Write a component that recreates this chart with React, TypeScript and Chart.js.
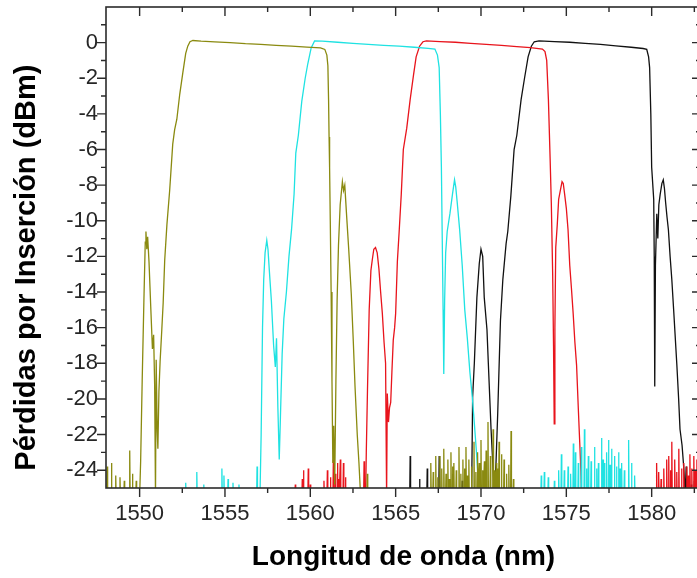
import React, { useEffect, useRef } from "react";
import { Chart, registerables } from "chart.js";

Chart.register(...registerables);

// ---- axis ranges & ticks ----
const xRange = [1548.03, 1582.89];
const yRange = [-25, 2];
const xMajorTicks = [1550, 1555, 1560, 1565, 1570, 1575, 1580];
const xMinorTicks = [1552.5, 1557.5, 1562.5, 1567.5, 1572.5, 1577.5, 1582.5];
const yMajorTicks = [-24, -22, -20, -18, -16, -14, -12, -10, -8, -6, -4, -2, 0];
const yMinorTicks = [-23, -21, -19, -17, -15, -13, -11, -9, -7, -5, -3, -1, 1];

const xTitle = "Longitud de onda (nm)";
const yTitle = "Pérdidas por Inserción (dBm)";

// noise floor of the analyser (below the visible range, clipped)
const NOISE_FLOOR = -25.5;

// ---- olive trace: [wavelength nm, loss dB] ----
const oliveNoiseLeft: [number, number][] = [
  [1548.1, -23.8], [1548.35, -23.6], [1548.6, -24.3], [1548.85, -24.4], [1549.1, -24.6],
  [1549.42, -22.9], [1549.58, -24.2], [1549.8, -24.6],
];
const oliveFilter: [number, number][] = [
  [1550.0, -25.5], [1550.06, -23.5], [1550.15, -19],
  [1550.25, -14.5], [1550.33, -11.2], [1550.37, -10.6], [1550.42, -11.6], [1550.47, -10.9],
  [1550.55, -12.3], [1550.65, -14.8], [1550.75, -17.2], [1550.82, -16.4], [1550.88, -19.2],
  [1550.93, -25.5], [1550.97, -17.8], [1551.03, -21.8], [1551.07, -22.8], [1551.13, -19.6],
  [1551.2, -17.9], [1551.3, -16.1], [1551.38, -14.6], [1551.47, -12.2], [1551.6, -10.2],
  [1551.76, -8.3], [1551.94, -5.7], [1552.05, -4.9], [1552.18, -4.3], [1552.35, -2.9],
  [1552.53, -1.7], [1552.7, -0.6], [1552.82, -0.2], [1552.95, 0.05], [1553.12, 0.12],
  [1553.6, 0.08], [1554.4, 0.04], [1555.3, 0.0], [1556.2, -0.06], [1557.1, -0.1],
  [1558.0, -0.15], [1558.9, -0.2], [1559.8, -0.25], [1560.6, -0.3], [1560.85, -0.38],
  [1560.97, -0.7], [1561.03, -1.3], [1561.07, -3.2], [1561.1, -5.3], [1561.13, -7.0],
  [1561.17, -10], [1561.22, -14], [1561.27, -19], [1561.32, -23.6], [1561.37, -21.5],
  [1561.43, -24.8], [1561.5, -19], [1561.57, -14.5], [1561.65, -11.4], [1561.75, -9.1],
  [1561.88, -7.8], [1561.95, -8.3], [1562.02, -8.0], [1562.12, -9.6], [1562.25, -11.6],
  [1562.4, -14.1], [1562.52, -16.8], [1562.62, -19.3], [1562.75, -22.0], [1562.85, -23.6],
  [1562.95, -25.5],
];
const oliveNoiseRight: [number, number][] = [
  [1563.34, -24.2], [1567.06, -23.6], [1567.2, -24.1], [1567.35, -23.2], [1567.47, -24.4],
  [1567.59, -23.2], [1567.7, -23.9], [1567.82, -22.8], [1567.95, -24.2], [1568.06, -23.4],
  [1568.15, -24.5], [1568.24, -23.0], [1568.33, -23.8], [1568.41, -23.6], [1568.55, -24.0],
  [1568.71, -22.7], [1568.82, -24.2], [1568.94, -23.4], [1569.03, -23.9], [1569.12, -22.7],
  [1569.2, -24.3], [1569.29, -23.4], [1569.45, -23.8], [1569.59, -22.4], [1569.7, -24.1],
  [1569.8, -23.0], [1569.9, -23.6], [1570.0, -22.3], [1570.1, -24.0], [1570.2, -23.5],
  [1570.3, -22.9], [1570.41, -21.3], [1570.55, -23.2], [1570.71, -21.7], [1570.8, -24.0],
  [1570.9, -23.6], [1571.0, -23.9], [1571.06, -22.4], [1571.2, -23.1], [1571.35, -23.4],
  [1571.5, -24.2], [1571.63, -23.7], [1571.76, -21.8], [1571.9, -24.5],
];

// ---- cyan trace ----
const cyanNoiseLeft: [number, number][] = [
  [1552.7, -24.7], [1553.35, -24.1], [1553.76, -24.8], [1554.82, -23.9], [1554.94, -24.3],
  [1555.18, -24.5], [1555.47, -24.7], [1555.82, -24.8], [1556.88, -23.8],
];
const cyanFilter: [number, number][] = [
  [1557.05, -25.5], [1557.12, -22], [1557.2, -16], [1557.27, -13.3], [1557.35, -11.8],
  [1557.45, -11.1], [1557.52, -11.6], [1557.6, -12.8], [1557.72, -14.5], [1557.85, -17.0],
  [1557.95, -18.2], [1558.02, -16.6], [1558.1, -20.5], [1558.18, -23.4], [1558.25, -21.0],
  [1558.35, -17.5], [1558.45, -15.5], [1558.6, -14.0], [1558.75, -12.0], [1558.9, -10.5],
  [1559.05, -8.5], [1559.15, -6.2], [1559.3, -5.2], [1559.5, -3.3], [1559.7, -2.0],
  [1559.85, -1.2], [1560.05, -0.3], [1560.25, 0.1], [1560.7, 0.08], [1561.6, 0.02],
  [1562.5, -0.04], [1563.4, -0.1], [1564.3, -0.15], [1565.2, -0.2], [1566.1, -0.26],
  [1566.9, -0.32], [1567.3, -0.36], [1567.45, -0.7], [1567.55, -1.4], [1567.62, -4.0],
  [1567.68, -7.0], [1567.73, -11], [1567.78, -15], [1567.82, -18.6], [1567.87, -14.5],
  [1567.93, -11.8], [1568.02, -10.6], [1568.18, -9.6], [1568.33, -8.5], [1568.45, -7.7],
  [1568.52, -8.1], [1568.6, -8.9], [1568.75, -10.5], [1568.9, -12.5], [1569.05, -15.0],
  [1569.2, -16.6], [1569.35, -18.5], [1569.5, -20.0], [1569.62, -21.5], [1569.72, -22.8],
  [1569.8, -24.0], [1569.9, -25.5],
];
const cyanNoiseRight: [number, number][] = [
  [1573.53, -24.3], [1573.71, -24.1], [1573.94, -24.4], [1574.3, -24.6], [1574.55, -24.0],
  [1574.71, -23.1], [1574.88, -24.0], [1575.1, -23.8], [1575.25, -24.2], [1575.41, -22.5],
  [1575.53, -23.0], [1575.7, -23.6], [1575.88, -22.7], [1576.06, -21.7], [1576.18, -23.9],
  [1576.29, -23.2], [1576.45, -23.5], [1576.65, -22.7], [1576.77, -23.9], [1576.88, -23.6],
  [1577.06, -22.2], [1577.15, -23.4], [1577.24, -23.6], [1577.36, -23.0], [1577.47, -22.3],
  [1577.56, -23.7], [1577.65, -22.8], [1577.82, -23.2], [1577.94, -23.8], [1578.06, -23.0],
  [1578.15, -23.9], [1578.24, -23.6], [1578.4, -24.0], [1578.65, -22.3], [1578.82, -23.6],
  [1579.0, -24.3],
];

// ---- red trace ----
const redNoiseLeft: [number, number][] = [
  [1559.12, -24.8], [1559.53, -24.5], [1559.6, -24.0], [1559.88, -23.9], [1560.0, -24.8],
  [1560.8, -24.6], [1561.0, -24.0], [1561.18, -24.4], [1561.35, -23.4], [1561.47, -24.2],
  [1561.59, -23.6], [1561.67, -24.5], [1561.76, -23.4], [1561.94, -23.6], [1562.06, -24.4],
  [1563.15, -23.5],
];
const redFilter: [number, number][] = [
  [1563.24, -25.5], [1563.28, -23.0], [1563.35, -19.5], [1563.45, -15.0], [1563.55, -12.8],
  [1563.63, -12.2], [1563.72, -11.6], [1563.82, -11.5], [1563.92, -11.8], [1564.02, -12.7],
  [1564.12, -14.0], [1564.22, -15.2], [1564.32, -16.8], [1564.41, -18.0], [1564.47, -25.5],
  [1564.51, -19.7], [1564.58, -21.3], [1564.64, -20.5], [1564.71, -20.2], [1564.78, -18.5],
  [1564.86, -16.7], [1564.94, -16.0], [1565.0, -15.2], [1565.1, -12.3], [1565.2, -10.7],
  [1565.33, -8.5], [1565.45, -6.0], [1565.65, -4.8], [1565.85, -3.2], [1566.05, -1.8],
  [1566.2, -0.8], [1566.4, -0.2], [1566.6, 0.05], [1566.8, 0.1], [1567.6, 0.06],
  [1568.5, 0.02], [1569.4, -0.04], [1570.3, -0.1], [1571.2, -0.15], [1572.1, -0.22],
  [1572.9, -0.28], [1573.6, -0.36], [1573.75, -0.5], [1573.85, -1.0], [1573.95, -3.2],
  [1574.05, -6.5], [1574.12, -9], [1574.2, -13], [1574.25, -17], [1574.29, -21.4],
  [1574.33, -16], [1574.38, -11.5], [1574.47, -10.2], [1574.55, -8.8], [1574.65, -8.3],
  [1574.75, -7.8], [1574.82, -7.9], [1574.9, -8.5], [1575.0, -9.3], [1575.1, -10.5],
  [1575.2, -12.5], [1575.3, -13.8], [1575.4, -15.2], [1575.5, -16.8], [1575.6, -18.1],
  [1575.7, -20.5], [1575.8, -22.8], [1575.85, -24.0], [1575.9, -25.5],
];
const redNoiseRight: [number, number][] = [
  [1580.29, -23.6], [1580.41, -24.1], [1580.55, -24.5], [1580.71, -23.9], [1580.88, -23.4],
  [1581.0, -23.2], [1581.1, -24.0], [1581.18, -22.4], [1581.35, -23.4], [1581.47, -24.1],
  [1581.59, -22.8], [1581.75, -23.9], [1581.88, -23.6], [1582.06, -23.8], [1582.15, -24.3],
  [1582.24, -23.1], [1582.35, -23.9], [1582.47, -23.2], [1582.56, -24.0], [1582.65, -23.4],
  [1582.8, -23.8],
];

// ---- black trace ----
const blackNoiseLeft: [number, number][] = [
  [1565.85, -23.2], [1566.4, -24.5], [1566.85, -23.9], [1567.55, -23.2], [1568.36, -24.2],
  [1568.9, -24.6],
];
const blackFilter: [number, number][] = [
  [1569.45, -25.5], [1569.51, -19.9], [1569.61, -18.0], [1569.76, -14.3], [1569.9, -12.4],
  [1570.0, -11.6], [1570.1, -12.0], [1570.19, -14.3], [1570.35, -16.1], [1570.43, -18.0],
  [1570.59, -21.7], [1570.69, -23.6], [1570.78, -25.5], [1570.88, -23.6], [1570.98, -20.8],
  [1571.14, -15.6], [1571.28, -13.3], [1571.47, -11.3], [1571.57, -10.6], [1571.75, -8.6],
  [1571.94, -6.0], [1572.1, -5.2], [1572.35, -3.2], [1572.55, -2.0], [1572.76, -0.8],
  [1572.95, -0.2], [1573.12, 0.05], [1573.4, 0.1], [1574.3, 0.06], [1575.2, 0.02],
  [1576.1, -0.04], [1577.0, -0.1], [1577.9, -0.18], [1578.8, -0.26], [1579.5, -0.33],
  [1579.71, -0.38], [1579.82, -0.8], [1579.88, -1.4], [1579.95, -4], [1580.0, -7.0],
  [1580.12, -8.8], [1580.15, -12], [1580.18, -19.3], [1580.22, -12.5], [1580.3, -9.6],
  [1580.36, -11.0], [1580.42, -9.1], [1580.5, -8.5], [1580.6, -7.9], [1580.68, -7.7],
  [1580.75, -8.2], [1580.82, -9.0], [1580.9, -9.8], [1580.98, -10.5], [1581.08, -12.0],
  [1581.18, -13.3], [1581.3, -15.2], [1581.47, -18.0], [1581.58, -20.0], [1581.66, -21.7],
  [1581.78, -22.6], [1581.86, -23.6], [1581.92, -24.5], [1581.96, -25.5],
];
const blackNoiseRight: [number, number][] = [
  [1582.02, -23.8], [1582.15, -24.4], [1582.32, -24.8], [1582.5, -24.6],
];

const seriesColors = ["#8a8a10", "#1fe2e2", "#e8141c", "#111111"];

const FONT = "'Liberation Sans', Arial, Helvetica, sans-serif";

// each noise reading is a narrow spike rising from the analyser floor
function spikes(peaks: [number, number][]): [number, number][] {
  const out: [number, number][] = [];
  peaks.forEach(([x, y]) => {
    out.push([x - 0.025, NOISE_FLOOR], [x, y], [x + 0.025, NOISE_FLOOR]);
  });
  return out;
}

const framePlugin = {
  id: "originFrame",
  afterDatasetsDraw(chart: any) {
    const { ctx, chartArea, scales } = chart;
    const { left, right, top, bottom } = chartArea;
    const xs = scales.x;
    const ys = scales.y;
    ctx.save();
    ctx.strokeStyle = "#2b2b2b";
    ctx.lineWidth = 1.6;
    ctx.strokeRect(left, top, right - left, bottom - top);
    ctx.lineWidth = 1.4;
    ctx.beginPath();
    const xTick = (v: number, len: number) => {
      const p = xs.getPixelForValue(v);
      ctx.moveTo(p, bottom);
      ctx.lineTo(p, bottom + len);
      ctx.moveTo(p, top);
      ctx.lineTo(p, top + len);
    };
    const yTick = (v: number, len: number) => {
      const p = ys.getPixelForValue(v);
      ctx.moveTo(left, p);
      ctx.lineTo(left - len, p);
      ctx.moveTo(right, p);
      ctx.lineTo(right - len, p);
    };
    xMajorTicks.forEach((v) => xTick(v, 9));
    xMinorTicks.forEach((v) => xTick(v, 5));
    yMajorTicks.forEach((v) => yTick(v, 9));
    yMinorTicks.forEach((v) => yTick(v, 5));
    ctx.stroke();
    ctx.restore();
  },
};

export default function App() {
  const ref = useRef<HTMLCanvasElement | null>(null);

  useEffect(() => {
    if (!ref.current) return;
    const traces: [number, number][][] = [
      [...spikes(oliveNoiseLeft), ...oliveFilter, ...spikes(oliveNoiseRight)],
      [...spikes(cyanNoiseLeft), ...cyanFilter, ...spikes(cyanNoiseRight)],
      [...spikes(redNoiseLeft), ...redFilter, ...spikes(redNoiseRight)],
      [...spikes(blackNoiseLeft), ...blackFilter, ...spikes(blackNoiseRight)],
    ];
    const chart = new Chart(ref.current, {
      type: "line",
      data: {
        datasets: traces.map((t, i) => ({
          data: t.map(([x, y]) => ({ x, y })),
          borderColor: seriesColors[i],
          borderWidth: 1.3,
          pointRadius: 0,
          tension: 0,
          fill: false,
          clip: 0,
        })),
      },
      options: {
        animation: false,
        responsive: false,
        devicePixelRatio: 1,
        events: [],
        layout: { padding: { top: 7, right: 3, left: 0, bottom: 0 } },
        plugins: { legend: { display: false }, tooltip: { enabled: false } },
        scales: {
          x: {
            type: "linear",
            position: "bottom",
            min: xRange[0],
            max: xRange[1],
            afterBuildTicks: (s: any) => {
              s.ticks = xMajorTicks.map((v) => ({ value: v }));
            },
            afterFit: (s: any) => {
              s.height = 90;
              s.paddingLeft = 0;
              s.paddingRight = 0;
            },
            grid: { display: false, drawTicks: false },
            border: { display: false },
            ticks: {
              font: { family: FONT, size: 22 },
              color: "#262626",
              padding: 13,
              maxRotation: 0,
              autoSkip: false,
              callback: (v: any) => String(v),
            },
            title: {
              display: true,
              text: xTitle,
              font: { family: FONT, size: 28, weight: "bold" },
              color: "#000",
              padding: { top: 0, bottom: 4 },
            },
          },
          y: {
            type: "linear",
            min: yRange[0],
            max: yRange[1],
            afterBuildTicks: (s: any) => {
              s.ticks = yMajorTicks.map((v) => ({ value: v }));
            },
            afterFit: (s: any) => {
              s.width = 106;
              s.paddingTop = 0;
              s.paddingBottom = 0;
            },
            grid: { display: false, drawTicks: false },
            border: { display: false },
            ticks: {
              font: { family: FONT, size: 22 },
              color: "#262626",
              padding: 8,
              autoSkip: false,
              callback: (v: any) => String(v),
            },
            title: {
              display: true,
              text: yTitle + "     ",
              font: { family: FONT, size: 29, weight: "bold" },
              color: "#000",
              padding: { top: 10, bottom: 0 },
            },
          },
        },
      },
      plugins: [framePlugin],
    });
    return () => chart.destroy();
  }, []);

  return (
    <div
      style={{
        position: "fixed",
        left: 0,
        top: 0,
        width: 697,
        height: 578,
        overflow: "hidden",
        background: "#fff",
      }}
    >
      <canvas ref={ref} width={704} height={578} style={{ display: "block" }} />
    </div>
  );
}
